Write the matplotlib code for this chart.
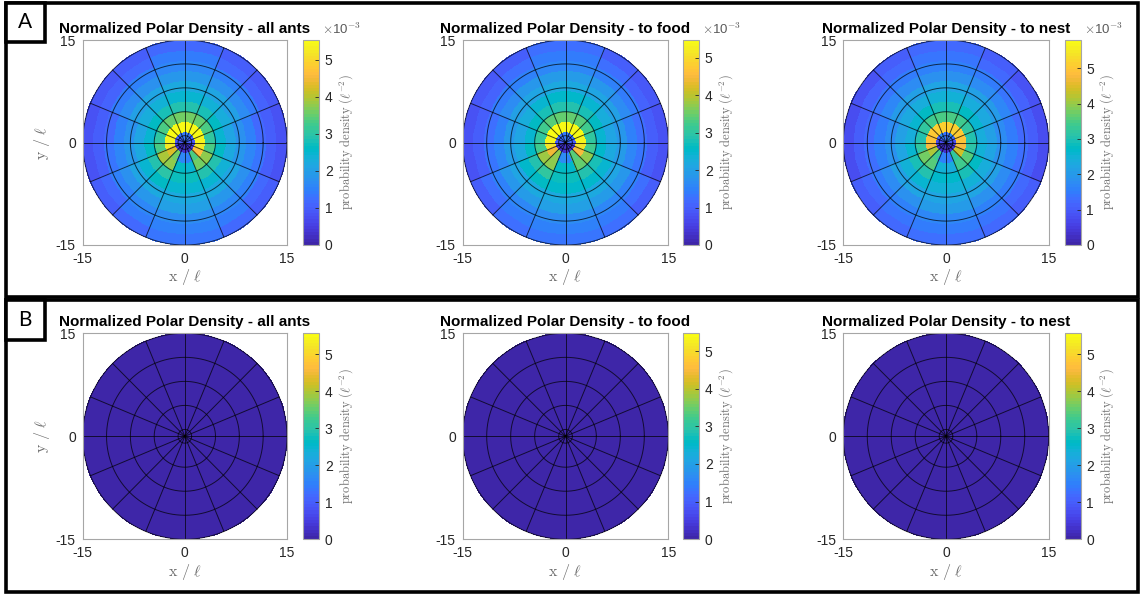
import numpy as np
import matplotlib
matplotlib.use("Agg")
import matplotlib.pyplot as plt
from matplotlib.colors import ListedColormap
from matplotlib.patches import Rectangle

plt.rcParams['font.family'] = ['Liberation Sans', 'DejaVu Sans']
plt.rcParams['mathtext.fontset'] = 'cm'
plt.rcParams['axes.unicode_minus'] = False

W, H = 1140, 594

# ---- MATLAB parula (64 levels) ----
PARULA = [
    (0.2422, 0.1504, 0.6603), (0.2504, 0.1650, 0.7076), (0.2578, 0.1818, 0.7511), (0.2647, 0.1978, 0.7952),
    (0.2706, 0.2147, 0.8364), (0.2751, 0.2342, 0.8710), (0.2783, 0.2559, 0.8991), (0.2803, 0.2782, 0.9221),
    (0.2813, 0.3006, 0.9414), (0.2810, 0.3228, 0.9579), (0.2795, 0.3447, 0.9717), (0.2760, 0.3667, 0.9829),
    (0.2699, 0.3892, 0.9906), (0.2602, 0.4123, 0.9952), (0.2440, 0.4358, 0.9988), (0.2206, 0.4603, 0.9973),
    (0.1963, 0.4847, 0.9892), (0.1834, 0.5074, 0.9798), (0.1786, 0.5289, 0.9682), (0.1764, 0.5499, 0.9520),
    (0.1687, 0.5703, 0.9359), (0.1540, 0.5902, 0.9218), (0.1460, 0.6091, 0.9079), (0.1380, 0.6276, 0.8973),
    (0.1248, 0.6459, 0.8883), (0.1113, 0.6635, 0.8763), (0.0952, 0.6798, 0.8598), (0.0689, 0.6948, 0.8394),
    (0.0297, 0.7082, 0.8163), (0.0036, 0.7203, 0.7917), (0.0067, 0.7312, 0.7660), (0.0433, 0.7411, 0.7394),
    (0.0964, 0.7500, 0.7120), (0.1408, 0.7584, 0.6842), (0.1717, 0.7670, 0.6554), (0.1938, 0.7758, 0.6251),
    (0.2161, 0.7843, 0.5923), (0.2470, 0.7918, 0.5567), (0.2906, 0.7973, 0.5188), (0.3406, 0.8008, 0.4789),
    (0.3909, 0.8029, 0.4354), (0.4456, 0.8024, 0.3909), (0.5044, 0.7993, 0.3480), (0.5616, 0.7942, 0.3045),
    (0.6174, 0.7876, 0.2612), (0.6720, 0.7793, 0.2227), (0.7242, 0.7698, 0.1910), (0.7738, 0.7598, 0.1646),
    (0.8203, 0.7498, 0.1535), (0.8634, 0.7406, 0.1596), (0.9035, 0.7330, 0.1774), (0.9393, 0.7288, 0.2100),
    (0.9728, 0.7298, 0.2394), (0.9956, 0.7434, 0.2371), (0.9970, 0.7659, 0.2199), (0.9952, 0.7893, 0.2028),
    (0.9892, 0.8136, 0.1885), (0.9786, 0.8386, 0.1766), (0.9676, 0.8639, 0.1643), (0.9610, 0.8890, 0.1537),
    (0.9597, 0.9135, 0.1423), (0.9628, 0.9373, 0.1265), (0.9691, 0.9606, 0.1064), (0.9769, 0.9839, 0.0805),
]
parula = ListedColormap(PARULA, name="parula")

# ---- polar binning ----
ring_edges = [0.0, 1.5, 3.0, 4.5, 6.0, 7.5, 9.0, 10.5, 12.0, 13.5, 15.0]   # radius / l
n_sectors = 16                                                           # 22.5 deg wedges, CCW from +x
grid_circles = [1.0, 4.5, 8.0, 11.5, 15.0]
r_max = 15.0

titles = ["Normalized Polar Density - all ants",
          "Normalized Polar Density - to food",
          "Normalized Polar Density - to nest"]

# ---- row A: probability density (x 10^-3 per l^2), rows = rings, cols = sectors ----
density_all_ants = [
    [0.9, 1.1, 1.3, 1.4, 1.4, 1.3, 1.1, 0.9, 0.6, 0.4, 0.3, 0.3, 0.3, 0.3, 0.4, 0.6],
    [5.4, 5.5, 5.5, 5.54, 5.54, 5.5, 5.5, 5.4, 5.2, 4.3, 3.6, 1.6, 1.5, 3.3, 4.6, 5.2],
    [3.1, 3.3, 3.5, 3.6, 3.6, 3.5, 3.3, 3.1, 3.3, 3.9, 3.8, 2.6, 2.5, 3.6, 3.8, 3.3],
    [2.5, 2.6, 2.8, 2.9, 2.9, 2.8, 2.6, 2.5, 2.6, 2.9, 3.0, 2.7, 2.7, 2.9, 2.9, 2.6],
    [2.1, 2.3, 2.4, 2.5, 2.5, 2.4, 2.3, 2.1, 2.2, 2.5, 2.6, 2.5, 2.5, 2.5, 2.4, 2.2],
    [1.8, 2.0, 2.1, 2.2, 2.2, 2.1, 2.0, 1.8, 1.9, 2.1, 2.2, 2.2, 2.2, 2.2, 2.1, 1.9],
    [1.5, 1.7, 1.8, 1.9, 1.9, 1.8, 1.7, 1.5, 1.6, 1.8, 1.9, 2.0, 2.0, 1.9, 1.8, 1.6],
    [1.2, 1.4, 1.5, 1.6, 1.6, 1.5, 1.4, 1.2, 1.3, 1.5, 1.6, 1.7, 1.7, 1.6, 1.5, 1.3],
    [1.0, 1.1, 1.2, 1.4, 1.4, 1.2, 1.1, 1.0, 1.0, 1.2, 1.4, 1.5, 1.5, 1.4, 1.2, 1.0],
    [0.8, 0.9, 1.0, 1.2, 1.2, 1.0, 0.9, 0.8, 0.8, 1.0, 1.2, 1.3, 1.3, 1.2, 1.0, 0.8],
]
density_to_food = [
    [1.0, 1.2, 1.3, 1.4, 1.4, 1.3, 1.2, 1.0, 0.6, 0.4, 0.3, 0.3, 0.3, 0.3, 0.4, 0.6],
    [5.3, 5.4, 5.45, 5.47, 5.47, 5.45, 5.4, 5.3, 5.1, 4.4, 3.7, 1.7, 1.6, 3.4, 4.5, 5.1],
    [3.0, 3.2, 3.4, 3.5, 3.5, 3.4, 3.2, 3.0, 3.2, 3.8, 3.7, 2.6, 2.5, 3.5, 3.7, 3.2],
    [2.4, 2.6, 2.8, 2.9, 2.9, 2.8, 2.6, 2.4, 2.6, 2.9, 3.0, 2.7, 2.7, 2.9, 2.8, 2.5],
    [2.1, 2.3, 2.4, 2.5, 2.5, 2.4, 2.3, 2.1, 2.2, 2.5, 2.6, 2.5, 2.5, 2.5, 2.4, 2.2],
    [1.8, 2.0, 2.1, 2.2, 2.2, 2.1, 2.0, 1.8, 1.9, 2.1, 2.2, 2.2, 2.2, 2.2, 2.1, 1.9],
    [1.5, 1.7, 1.8, 1.9, 1.9, 1.8, 1.7, 1.5, 1.6, 1.8, 1.9, 2.0, 2.0, 1.9, 1.8, 1.6],
    [1.2, 1.4, 1.5, 1.6, 1.6, 1.5, 1.4, 1.2, 1.3, 1.5, 1.6, 1.7, 1.7, 1.6, 1.5, 1.3],
    [1.0, 1.1, 1.2, 1.4, 1.4, 1.2, 1.1, 1.0, 1.0, 1.2, 1.4, 1.5, 1.5, 1.4, 1.2, 1.0],
    [0.8, 0.9, 1.0, 1.2, 1.2, 1.0, 0.9, 0.8, 0.8, 1.0, 1.2, 1.3, 1.3, 1.2, 1.0, 0.8],
]
density_to_nest = [
    [0.8, 1.2, 1.8, 1.4, 1.4, 1.8, 1.2, 0.8, 0.5, 0.3, 0.3, 0.3, 0.3, 0.3, 0.3, 0.5],
    [4.9, 5.0, 5.1, 5.1, 5.1, 5.1, 5.0, 4.9, 4.8, 4.1, 3.4, 1.6, 1.5, 3.2, 4.4, 4.8],
    [3.0, 3.2, 3.4, 3.5, 3.5, 3.4, 3.2, 3.0, 3.2, 3.8, 3.6, 2.5, 2.4, 3.4, 3.6, 3.1],
    [2.4, 2.6, 2.8, 2.9, 2.9, 2.8, 2.6, 2.4, 2.6, 2.9, 3.0, 2.7, 2.7, 2.9, 2.8, 2.5],
    [2.1, 2.3, 2.4, 2.5, 2.5, 2.4, 2.3, 2.1, 2.2, 2.5, 2.6, 2.5, 2.5, 2.5, 2.4, 2.2],
    [1.8, 2.0, 2.1, 2.2, 2.2, 2.1, 2.0, 1.8, 1.9, 2.1, 2.2, 2.2, 2.2, 2.2, 2.1, 1.9],
    [1.5, 1.7, 1.8, 1.9, 1.9, 1.8, 1.7, 1.5, 1.6, 1.8, 1.9, 2.0, 2.0, 1.9, 1.8, 1.6],
    [1.2, 1.4, 1.5, 1.6, 1.6, 1.5, 1.4, 1.2, 1.3, 1.5, 1.6, 1.7, 1.7, 1.6, 1.5, 1.3],
    [1.0, 1.1, 1.2, 1.4, 1.4, 1.2, 1.1, 1.0, 1.0, 1.2, 1.4, 1.5, 1.5, 1.4, 1.2, 1.0],
    [0.8, 0.9, 1.0, 1.2, 1.2, 1.0, 0.9, 0.8, 0.8, 1.0, 1.2, 1.3, 1.3, 1.2, 1.0, 0.8],
]
a_color_top = [5.54, 5.47, 5.8]

# ---- row B: radial profile, uniform over angle ----
b_all_ants = [0.02, 0.01, 0.01, 0.01, 0.01, 0.0, 0.0, 0.0, 0.0, 0.0]
b_to_food = [0.02, 0.01, 0.01, 0.01, 0.01, 0.0, 0.0, 0.0, 0.0, 0.0]
b_to_nest = [0.02, 0.01, 0.01, 0.01, 0.01, 0.0, 0.0, 0.0, 0.0, 0.0]
b_color_top = [5.56, 5.47, 5.56]

cbar_ticks = [0, 1, 2, 3, 4, 5]
axis_ticks = [-15, 0, 15]

# ---- layout (pixel boxes: x0, y0, x1, y1 from top-left) ----
axes_x = [(82.7, 287.0), (462.7, 668.3), (843.3, 1048.7)]
cbar_x = [(302.7, 319.3), (682.7, 699.3), (1065.0, 1080.7)]
row_y = [(40.0, 245.0), (333.3, 539.3)]

TICK_C = '#262626'
LABEL_C = '#6f6f6f'
FRAME_C = '#a6a6a6'


def rect(x0, y0, x1, y1):
    return [x0 / W, 1 - y1 / H, (x1 - x0) / W, (y1 - y0) / H]


def draw_panel(fig, col, row, table, vmax, title, show_multiplier):
    ax = fig.add_axes(rect(axes_x[col][0], row_y[row][0], axes_x[col][1], row_y[row][1]))
    cax = fig.add_axes(rect(cbar_x[col][0], row_y[row][0], cbar_x[col][1], row_y[row][1]))

    sub = 4
    r = np.asarray(ring_edges)
    th = np.linspace(0.0, 2 * np.pi, n_sectors * sub + 1)
    R, TH = np.meshgrid(r, th, indexing='ij')
    X, Y = R * np.cos(TH), R * np.sin(TH)
    C = np.repeat(np.asarray(table, dtype=float), sub, axis=1)
    mesh = ax.pcolormesh(X, Y, C, cmap=parula, vmin=0, vmax=vmax, shading='flat',
                         edgecolors='none', antialiased=False)

    # polar grid
    for k in range(n_sectors):
        a = 2 * np.pi * k / n_sectors
        ax.plot([0, r_max * np.cos(a)], [0, r_max * np.sin(a)], color='k', lw=0.7, alpha=0.7)
    t = np.linspace(0, 2 * np.pi, 361)
    for rc in grid_circles:
        ax.plot(rc * np.cos(t), rc * np.sin(t), color='k', lw=0.7, alpha=0.7)

    ax.set_xlim(-15, 15)
    ax.set_ylim(-15, 15)
    ax.set_xticks(axis_ticks)
    ax.set_yticks(axis_ticks)
    ax.tick_params(length=0, labelsize=10, colors=TICK_C, pad=5)
    for s in ax.spines.values():
        s.set_color(FRAME_C)
        s.set_linewidth(0.8)
    ax.set_title(title, fontsize=11, fontweight='bold', pad=5, color='black')
    ax.set_xlabel(r'$\mathrm{x}\ /\ \ell$', fontsize=11.5, color=LABEL_C, labelpad=1)
    if col == 0:
        ax.set_ylabel(r'$\mathrm{y}\ /\ \ell$', fontsize=11.5, color=LABEL_C, labelpad=3)

    cb = fig.colorbar(mesh, cax=cax, ticks=cbar_ticks)
    cb.outline.set_edgecolor(FRAME_C)
    cb.outline.set_linewidth(0.8)
    cax.tick_params(direction='in', length=3, width=0.6, color=TICK_C, labelsize=10,
                    labelcolor=TICK_C, pad=4)
    cb.set_label(r'$\mathrm{probability\ density\ (\ell^{-2})}$', fontsize=9,
                 color=LABEL_C, labelpad=3)
    if show_multiplier:
        fig.text((cbar_x[col][1] + 3) / W, 1 - 29 / H, r'$\times$10$^{-3}$',
                 fontsize=9.5, color='#5a5a5a', va='center', ha='left')


fig = plt.figure(figsize=(W / 100, H / 100), dpi=100)

a_tables = [density_all_ants, density_to_food, density_to_nest]
for i in range(3):
    draw_panel(fig, i, 0, a_tables[i], a_color_top[i], titles[i], True)

b_profiles = [b_all_ants, b_to_food, b_to_nest]
for i in range(3):
    b_table = [[v] * n_sectors for v in b_profiles[i]]
    draw_panel(fig, i, 1, b_table, b_color_top[i], titles[i], False)

# panel frames and letters
lw_frame = 2.6
for (y0, y1) in [(2.5, 297.0), (299.5, 591.5)]:
    fig.patches.append(Rectangle((5.5 / W, 1 - y1 / H), (1137.5 - 5.5) / W, (y1 - y0) / H,
                                 transform=fig.transFigure, fill=False, edgecolor='black',
                                 lw=lw_frame, zorder=10))
for letter, (y0, y1) in [("A", (2.5, 42.0)), ("B", (299.5, 340.0))]:
    fig.patches.append(Rectangle((5.5 / W, 1 - y1 / H), (45.0 - 5.5) / W, (y1 - y0) / H,
                                 transform=fig.transFigure, facecolor='white', edgecolor='black',
                                 lw=lw_frame, zorder=10))
    fig.text(25.0 / W, 1 - (y0 + y1) / 2 / H, letter, fontsize=15, family=['Lato', 'DejaVu Sans'],
             ha='center', va='center', zorder=11)

fig.savefig('out.png', dpi=100)
